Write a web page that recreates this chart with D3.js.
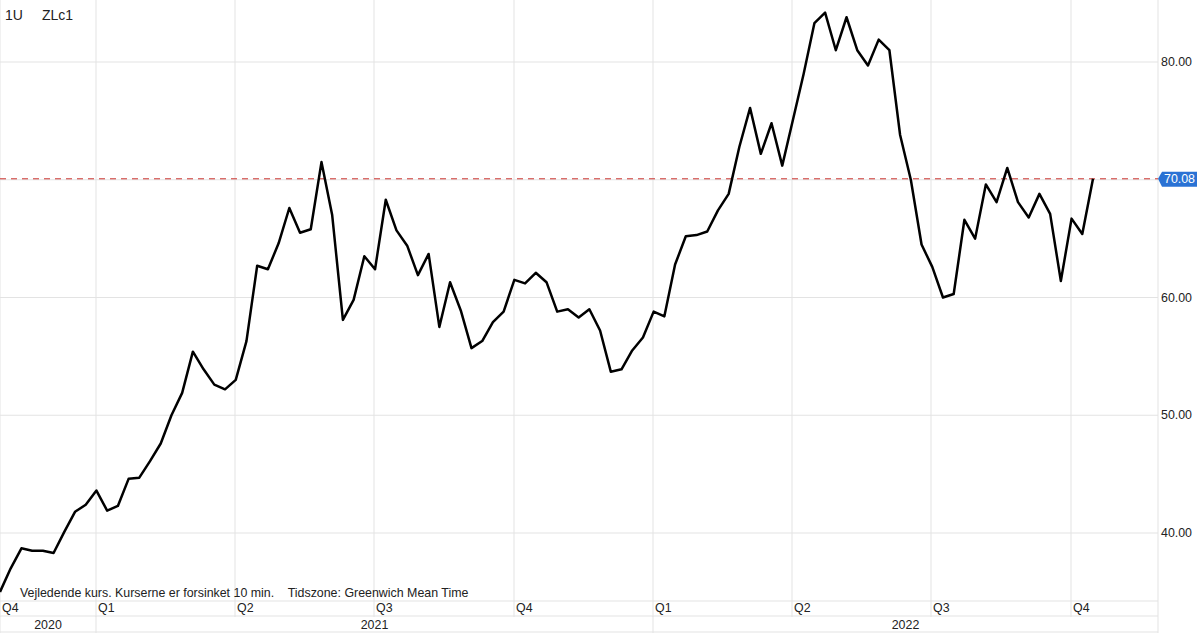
<!DOCTYPE html><html><head><meta charset="utf-8">
<script src="https://cdn.jsdelivr.net/npm/d3@7"></script>
<style>body{margin:0;background:#fff}svg{display:block;font-family:"Liberation Sans",Arial,sans-serif}</style></head><body>
<svg id="c" width="1200" height="633"></svg>
<script>
const prices=[35.0,37,38.7,38.5,38.5,38.3,40.1,41.8,42.4,43.6,41.9,42.3,44.6,44.7,46.1,47.6,50.0,51.9,55.4,53.9,52.6,52.2,53.0,56.3,62.7,62.4,64.6,67.6,65.5,65.8,71.5,67.0,58.1,59.8,63.5,62.4,68.3,65.7,64.4,61.9,63.7,57.5,61.3,58.9,55.7,56.3,57.9,58.8,61.5,61.2,62.1,61.3,58.8,59.0,58.3,59.0,57.2,53.7,53.9,55.5,56.6,58.8,58.4,62.8,65.2,65.3,65.6,67.4,68.8,72.8,76.1,72.2,74.8,71.2,75.1,79.0,83.3,84.2,81.0,83.8,81.0,79.7,81.9,81.0,73.8,70.0,64.5,62.6,60.0,60.3,66.6,65.0,69.6,68.1,71.0,68.1,66.8,68.8,67.1,61.4,66.7,65.4,70.08];
const quarterLabels=["Q4","Q1","Q2","Q3","Q4","Q1","Q2","Q3","Q4"];
const years=["2020","2021","2022"];
const yearSpans=[[0,1],[1,5],[5,9]];
const yTicks=[40,50,60,70,80];
const lastPrice=70.08;

const svg=d3.select("#c");
const x=d3.scaleLinear().domain([0,102]).range([0,1093]);
const y=d3.scaleLinear().domain([40,80]).range([533,62]);
const qpos=[0,96,235,374,514,653,792,931,1071];
const qX=i=>i<qpos.length?qpos[i]:1158;
svg.selectAll(".hg").data(yTicks).join("line").attr("x1",0).attr("x2",1158).attr("y1",d=>y(d)).attr("y2",d=>y(d)).attr("stroke","#e3e3e3");
svg.selectAll(".vg").data(qpos).join("line").attr("x1",d=>d).attr("x2",d=>d).attr("y1",0).attr("y2",617).attr("stroke","#e3e3e3");
svg.append("line").attr("x1",1158).attr("x2",1158).attr("y1",0).attr("y2",633).attr("stroke","#e3e3e3");
[601,616,632].forEach(v=>svg.append("line").attr("x1",0).attr("x2",1158).attr("y1",v).attr("y2",v).attr("stroke","#e3e3e3"));
yearSpans.forEach(s=>{svg.append("line").attr("x1",qX(s[0])).attr("x2",qX(s[0])).attr("y1",616).attr("y2",633).attr("stroke","#e3e3e3");});
svg.selectAll(".ql").data(quarterLabels).join("text").attr("x",(d,i)=>qX(i)+2).attr("y",612).attr("font-size",12.4).attr("fill","#222").text(d=>d);
svg.selectAll(".yl").data(years).join("text").attr("x",(d,i)=>(qX(yearSpans[i][0])+qX(yearSpans[i][1]))/2).attr("y",629).attr("text-anchor","middle").attr("font-size",12.4).attr("fill","#222").text(d=>d);
// tick labels hidden where the last-price tag covers them
svg.selectAll(".yt").data(yTicks.filter(d=>Math.abs(y(d)-y(lastPrice))>14)).join("text").attr("x",1192).attr("y",d=>y(d)+4).attr("text-anchor","end").attr("font-size",12.4).attr("fill","#222").text(d=>d.toFixed(2));
svg.append("line").attr("x1",0).attr("x2",1158).attr("y1",y(lastPrice)).attr("y2",y(lastPrice)).attr("stroke","#c9302c").attr("stroke-dasharray","6,5").attr("stroke-width",1);
svg.append("path").datum(prices).attr("fill","none").attr("stroke","#000").attr("stroke-width",2.5).attr("stroke-linejoin","round")
 .attr("d",d3.line().x((d,i)=>x(i)).y(d=>y(d)));
const ly=y(lastPrice);
svg.append("path").attr("d",`M1158,${ly} L1162,${ly-7} L1197,${ly-7} L1197,${ly+8} L1162,${ly+8} Z`).attr("fill","#2a72d4");
svg.append("text").attr("x",1179.5).attr("y",ly+4.5).attr("text-anchor","middle").attr("font-size",12.4).attr("fill","#fff").text(lastPrice.toFixed(2));
svg.append("text").attr("x",5).attr("y",20).attr("font-size",14).attr("fill","#222").text("1U");
svg.append("text").attr("x",42).attr("y",20).attr("font-size",14).attr("fill","#222").text("ZLc1");
svg.append("text").attr("x",20).attr("y",597).attr("font-size",12.4).attr("fill","#222").text("Vejledende kurs. Kurserne er forsinket 10 min.    Tidszone: Greenwich Mean Time").style("white-space","pre");
</script></body></html>
